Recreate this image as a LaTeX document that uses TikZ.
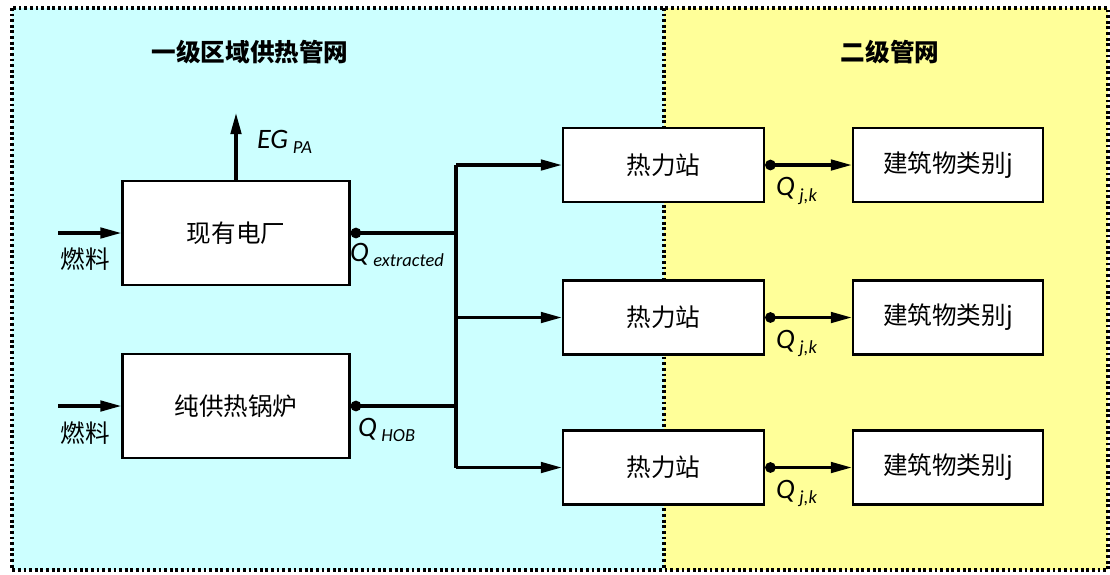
\documentclass[tikz,border=0pt]{standalone}
\usepackage{fontspec}
\setmainfont{Carlito}
\newfontfamily\cjk{Noto Sans CJK SC}
\usetikzlibrary{positioning, arrows.meta}
\definecolor{NetCyan}{RGB}{204,255,255}
\definecolor{NetYellow}{RGB}{255,255,153}
\newcommand{\qsub}[2]{\textit{#1}\,\raisebox{-0.4ex}{\fontsize{10.5}{11}\selectfont\itshape #2}}
\tikzset{
  blk/.style={draw=black, line width=1.3pt, fill=white, align=center,
    font=\cjk\fontsize{14}{16}\selectfont},
  srcbox/.style={blk, minimum width=4.54cm, minimum height=2.08cm},
  stbox/.style={blk, minimum width=4.02cm, minimum height=1.48cm},
  bldbox/.style={blk, minimum width=3.80cm, minimum height=1.48cm},
  zone/.style={draw=black, line width=1.8pt, dash pattern=on 1.6pt off 1.6pt},
  pipe/.style={line width=1.8pt},
  flow/.style={pipe, -{Triangle[length=12pt,width=6pt]}},
  outflow/.style={pipe, {Circle[length=6pt]}-},
  outarr/.style={pipe, {Circle[length=6pt]}-{Triangle[length=12pt,width=6pt]}},
  ttl/.style={font=\cjk\bfseries\fontsize{14}{16}\selectfont},
  fuel/.style={font=\cjk\fontsize{14}{16}\selectfont},
  qlab/.style={anchor=west, font=\fontsize{16}{18}\selectfont, inner sep=1pt},
}

\begin{document}
\begin{tikzpicture}
  \useasboundingbox (0,0) rectangle (22.2,-11.48);
  % zones
  \fill[NetCyan] (0.24,-0.16) rectangle (13.28,-11.40);
  \fill[NetYellow] (13.28,-0.16) rectangle (22.16,-11.40);
  \draw[zone] (0.24,-0.16) rectangle (22.16,-11.40);
  \draw[zone] (13.28,-0.16) -- (13.28,-11.40);
  \node[ttl] (t1) at (5.0,-1.04) {一级区域供热管网};
  \node[ttl] (t2) at (17.8,-1.04) {二级管网};

  % sources
  \node[srcbox] (plant) at (4.72,-4.66) {现有电厂};
  \node[srcbox] (boiler) at (4.72,-8.12) {纯供热锅炉};
  \coordinate (eg) at (4.72,-2.26);
  \draw[flow] (plant.north) -- (eg);
  \node[qlab] (eglab) at (5.10,-2.84) {\qsub{EG}{PA}};
  \coordinate (f1) at (1.16,-4.66);
  \coordinate (f2) at (1.16,-8.12);
  \draw[flow] (f1) -- (plant.west);
  \draw[flow] (f2) -- (boiler.west);
  \node[fuel] (fl1) at (1.70,-5.18) {燃料};
  \node[fuel] (fl2) at (1.70,-8.66) {燃料};

  % stations and buildings
  \foreach \k/\y in {1/-3.30, 2/-6.35, 3/-9.35} {
    \node[stbox] (st\k) at (13.27,\y) {热力站};
    \node[bldbox] (bd\k) at (18.96,\y) {建筑物类别j};
    \draw[outarr] (st\k.east) -- (bd\k.west);
    \node[qlab] (qj\k) at (15.48,\y-0.52) {\qsub{Q}{j,k}};
  }

  % bus
  \coordinate (busT) at (9.12,-3.30);
  \coordinate (busB) at (9.12,-9.35);
  \draw[pipe] (busT) -- (busB);
  \draw[outflow] (plant.east) -- (plant.east -| busT);
  \draw[outflow] (boiler.east) -- (boiler.east -| busT);
  \foreach \k in {1,2,3} {\draw[flow] (busT |- st\k) -- (st\k.west);}
  \node[qlab] (qex) at (6.96,-5.10) {\qsub{Q}{extracted}};
  \node[qlab] (qhob) at (7.12,-8.60) {\qsub{Q}{HOB}};
\end{tikzpicture}
\end{document}
